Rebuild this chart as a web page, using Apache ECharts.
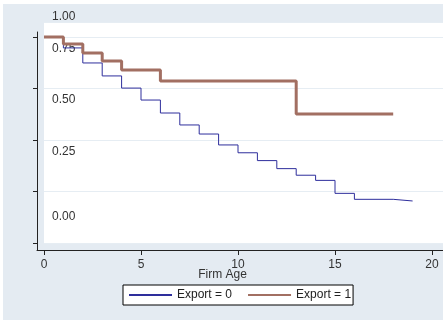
<!DOCTYPE html>
<html>
<head>
<meta charset="utf-8">
<script src="https://cdn.jsdelivr.net/npm/echarts@6/dist/echarts.min.js"></script>
<style>
  html, body { margin: 0; padding: 0; background: #ffffff; width: 443px; height: 320px; overflow: hidden; }
  #chart { position: absolute; left: 3px; top: 4px; width: 440px; height: 316px; }
</style>
</head>
<body>
<div id="chart"></div>
<script>
// ---- data ----
const seriesNames = ['Export = 0', 'Export = 1'];
// Kaplan-Meier survival estimates: [firm age, survival] (step function)
const export0 = [
  [0, 1.000], [1, 0.947], [2, 0.874], [3, 0.811], [4, 0.752], [5, 0.694],
  [6, 0.631], [7, 0.573], [8, 0.529], [9, 0.476], [10, 0.438], [11, 0.400],
  [12, 0.361], [13, 0.329], [14, 0.304], [15, 0.241], [16, 0.212], [18, 0.204],
  [19, 0.204]
];
const export1 = [
  [0, 1.000], [1, 0.966], [2, 0.922], [3, 0.883], [4, 0.840], [6, 0.786],
  [13, 0.626], [18, 0.626]
];
const xTicks = [0, 5, 10, 15, 20];
const yTicks = [0, 0.25, 0.5, 0.75, 1.0];
const yTickLabels = ['0.00', '0.25', '0.50', '0.75', '1.00'];
// layout: where each y label text sits (as printed in the reference)
const yLabelPos = [0.1286, 0.4417, 0.6942, 0.9442, 1.0971];

const FONT = '"Liberation Sans", Arial, Helvetica, sans-serif';
const AXIS_COLOR = '#222';
const chart = echarts.init(document.getElementById('chart'));

const hiddenParts = {
  axisTick: { show: false }, axisLabel: { show: false },
  splitLine: { show: false }, splitArea: { show: false }
};

// scale: 19.4 px per year, 206 px per unit of survival
const PX_X = 19.4, PX_Y = 206;

chart.setOption({
  backgroundColor: '#e4ebf2',
  animation: false,
  textStyle: { fontFamily: FONT },
  grid: [
    // plot region (white)
    { left: 41, right: 0, top: 18, height: 221, show: true, backgroundColor: '#ffffff', borderWidth: 0 },
    // axis frame (lines, ticks, x labels)
    { left: 34, right: 0, top: 28, height: 218, show: false },
    // y label column
    { left: 41, right: 0, top: 0, height: 239, show: false }
  ],
  xAxis: [
    Object.assign({
      gridIndex: 0, type: 'value', min: 0, max: 399 / PX_X,
      axisLine: { show: false }
    }, hiddenParts),
    {
      gridIndex: 1, type: 'value', min: -7 / PX_X, max: 399 / PX_X,
      axisLine: { show: true, onZero: false, lineStyle: { color: AXIS_COLOR, width: 1 } },
      axisTick: { show: true, length: 5, customValues: xTicks, lineStyle: { color: AXIS_COLOR } },
      axisLabel: { customValues: xTicks, margin: 9, fontSize: 12, color: '#333', fontFamily: FONT },
      splitLine: { show: false },
      name: 'Firm Age', nameLocation: 'middle', nameGap: 19, nameMoveOverlap: false,
      nameTextStyle: { fontSize: 12, color: '#333', fontFamily: FONT, padding: [0, 35, 0, 0] }
    },
    Object.assign({
      gridIndex: 2, type: 'value', min: 0, max: 1,
      axisLine: { show: false }
    }, hiddenParts)
  ],
  yAxis: [
    {
      gridIndex: 0, type: 'value', min: 0, max: 221 / PX_Y, interval: 0.25,
      axisLine: { show: false }, axisTick: { show: false }, axisLabel: { show: false },
      splitLine: { show: true, lineStyle: { color: '#e6edf3', width: 1 } }
    },
    {
      gridIndex: 1, type: 'value', min: -7 / PX_Y, max: 211 / PX_Y,
      axisLine: { show: true, onZero: false, lineStyle: { color: AXIS_COLOR, width: 1 } },
      axisTick: { show: true, length: 4, customValues: yTicks, lineStyle: { color: AXIS_COLOR } },
      axisLabel: { show: false },
      splitLine: { show: false }
    },
    {
      gridIndex: 2, type: 'value', min: 0, max: 239 / PX_Y,
      axisLine: { show: false }, axisTick: { show: false }, splitLine: { show: false },
      axisLabel: {
        inside: true, margin: 8, fontSize: 12, color: '#333', fontFamily: FONT,
        customValues: yLabelPos,
        formatter: function (v) {
          let best = 0;
          for (let i = 1; i < yLabelPos.length; i++) {
            if (Math.abs(yLabelPos[i] - v) < Math.abs(yLabelPos[best] - v)) best = i;
          }
          return yTickLabels[best];
        }
      }
    }
  ],
  legend: {
    data: seriesNames,
    left: 120, top: 281,
    orient: 'horizontal',
    backgroundColor: '#ffffff',
    borderColor: '#000', borderWidth: 1, borderRadius: 0,
    padding: [4, 2, 4, 5],
    itemWidth: 43, itemHeight: 14, itemGap: 15,
    itemStyle: { opacity: 0 },
    textStyle: { fontSize: 12, color: '#222', fontFamily: FONT }
  },
  series: [
    {
      name: seriesNames[0], type: 'line', step: 'end', xAxisIndex: 0, yAxisIndex: 0,
      data: export0, symbol: 'none', showSymbol: false,
      lineStyle: { color: '#2e2e9c', width: 1 }, itemStyle: { color: '#2e2e9c' }, z: 3
    },
    {
      name: seriesNames[1], type: 'line', step: 'end', xAxisIndex: 0, yAxisIndex: 0,
      data: export1, symbol: 'none', showSymbol: false,
      lineStyle: { color: '#a26f62', width: 3 }, itemStyle: { color: '#a26f62' }, z: 4
    }
  ]
});
</script>
</body>
</html>
